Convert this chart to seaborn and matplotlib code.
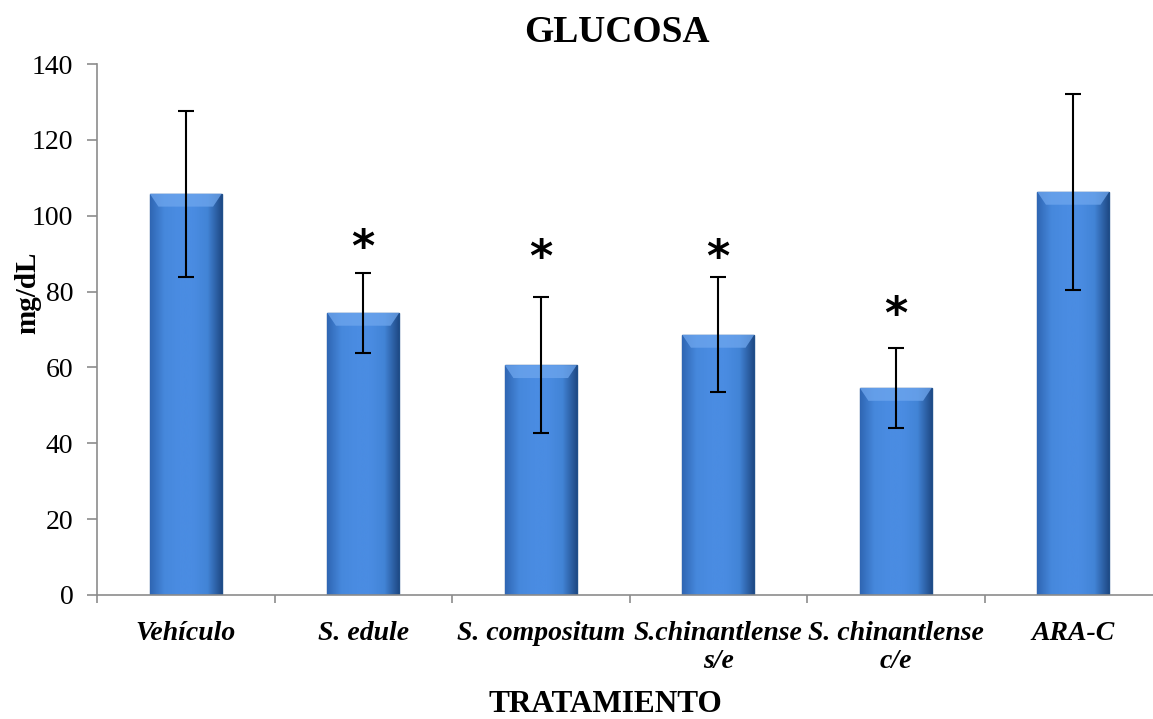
import numpy as np
import pandas as pd
import matplotlib
matplotlib.use("Agg")
import matplotlib.pyplot as plt
import seaborn as sns
from matplotlib.colors import LinearSegmentedColormap

categories = ["Vehículo", "S. edule", "S. compositum", "S.chinantlense\ns/e", "S. chinantlense\nc/e", "ARA-C"]
means = [105.8, 74.4, 60.6, 68.6, 54.6, 106.3]
errors = [21.9, 10.5, 18.0, 15.2, 10.6, 25.9]
star_y = [None, 91.3, 88.6, 88.6, 73.6, None]
yticks = [0, 20, 40, 60, 80, 100, 120, 140]

sns.set_theme(style="white")
plt.rcParams['font.family'] = ['Liberation Serif', 'DejaVu Serif']
plt.rcParams['text.color'] = 'black'
plt.rcParams['xtick.color'] = '#8c8c8c'
plt.rcParams['ytick.color'] = '#8c8c8c'
plt.rcParams['xtick.labelcolor'] = 'black'
plt.rcParams['ytick.labelcolor'] = 'black'
plt.rcParams['axes.labelcolor'] = 'black'

df = pd.DataFrame({"cat": categories, "val": means})

fig = plt.figure(figsize=(11.53, 7.19), dpi=100)
ax = fig.add_axes([97/1153, 1 - 595/719, (1162 - 97)/1153, (595 - 64)/719])

sns.barplot(data=df, x="cat", y="val", ax=ax, color="#3d7dd0", width=0.405,
            edgecolor="#1f4f8a", linewidth=1.0, errorbar=None, zorder=2)

# gradient shading on each bar
cmap = LinearSegmentedColormap.from_list("bev", ["#2f66b3", "#4688dc", "#4a8ce2", "#4a8ce2", "#4284d6", "#1f4a86"])
grad = np.linspace(0, 1, 256).reshape(1, -1)
for p in ax.patches:
    x0, y0 = p.get_x(), p.get_y()
    w, h = p.get_width(), p.get_height()
    im = ax.imshow(grad, extent=[x0, x0 + w, y0, y0 + h], aspect="auto", cmap=cmap, zorder=2.5)
    im.set_clip_path(p)
    # top bevel (trapezoid)
    bev = 3.4
    ax.fill([x0, x0 + w, x0 + w * 0.88, x0 + w * 0.12], [y0 + h, y0 + h, y0 + h - bev, y0 + h - bev],
            color="#6ea6ee", alpha=0.75, zorder=2.6, linewidth=0)

ax.errorbar(np.arange(len(categories)), means, yerr=errors, fmt="none",
            ecolor="black", elinewidth=1.5, capsize=6, capthick=1.5, zorder=3)

for i, sy in enumerate(star_y):
    if sy is not None:
        ax.text(i, sy, "*", ha="center", va="center", fontsize=32, fontweight="bold",
                family="DejaVu Sans", color="black", zorder=4)

ax.set_ylim(0, 140)
ax.set_xlim(-0.5, len(categories) - 0.5)
ax.set_yticks(yticks)
ax.set_yticklabels([str(t) for t in yticks], fontsize=20)
ax.set_xticks(np.arange(len(categories)))
ax.set_xticklabels(categories, fontsize=20, fontstyle="italic", fontweight="bold", linespacing=1.15)
ax.set_xticks(np.arange(len(categories) + 1) - 0.5, minor=True)
ax.tick_params(axis="x", which="major", length=0, pad=19)
ax.tick_params(axis="x", which="minor", length=6, width=1.2, direction="out")
ax.tick_params(axis="y", length=7, width=1.2, direction="out", pad=10)
ax.xaxis.set_tick_params(bottom=True, which="minor")
ax.yaxis.set_tick_params(left=True)

sns.despine(ax=ax)
for s in ["left", "bottom"]:
    ax.spines[s].set_color("#8c8c8c")
    ax.spines[s].set_linewidth(1.2)

ax.set_xlabel("")
ax.set_ylabel("mg/dL", fontsize=21, fontweight="bold")
ax.yaxis.set_label_coords(-0.052, 0.569)
fig.text(605/1153, 1 - 705/719, "TRATAMIENTO", ha="center", va="center", fontsize=22.5, fontweight="bold")
fig.text(617/1153, 1 - 33/719, "GLUCOSA", ha="center", va="center", fontsize=27, fontweight="bold")

fig.savefig("out.png", dpi=100)
